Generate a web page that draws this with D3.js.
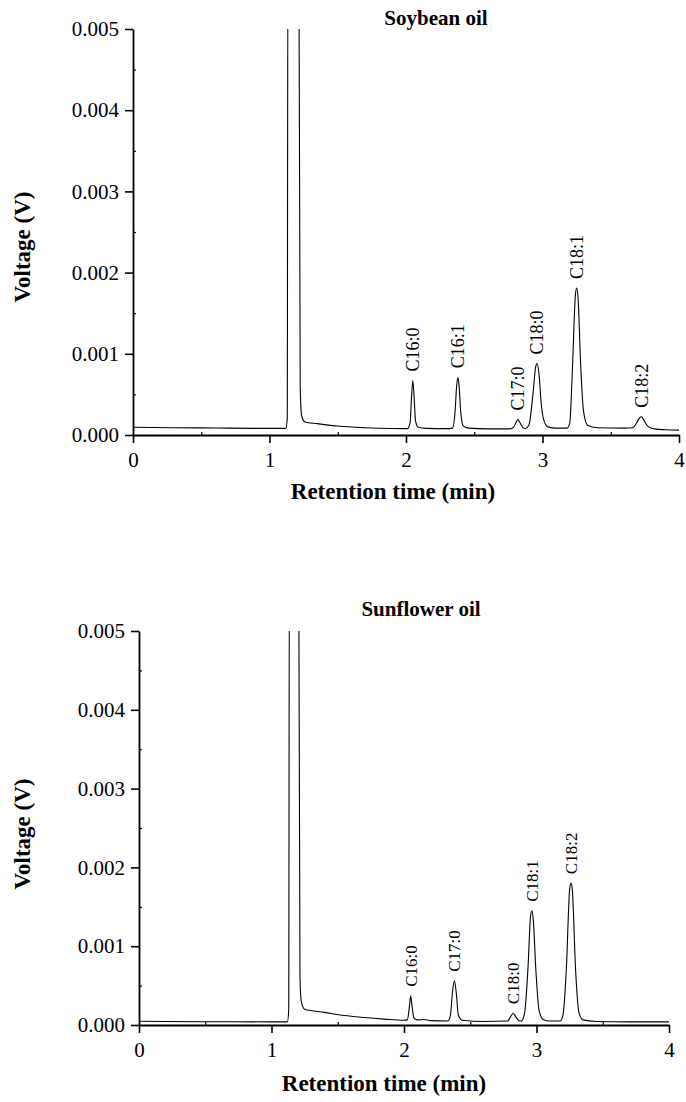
<!DOCTYPE html>
<html>
<head>
<meta charset="utf-8">
<script src="https://cdn.jsdelivr.net/npm/d3@7"></script>
<style>
  html, body { margin: 0; padding: 0; background: #fff; }
  svg { display: block; }
  text { font-family: "Liberation Serif", "Times New Roman", serif; fill: #000; }
</style>
</head>
<body>
<svg id="chart" width="686" height="1102"></svg>
<script>
// ---- Data -----------------------------------------------------------------
// Axis ticks
const timeTicks = [0, 1, 2, 3, 4];
const voltTicks = [0, 0.001, 0.002, 0.003, 0.004, 0.005];

// Soybean oil chromatogram: [retention time (min), voltage (V)]
const soyTrace = [
  [0.00, 0.000095], [0.30, 0.000090], [0.60, 0.000086], [0.90, 0.000082],
  [1.12, 0.000082], [1.13, 0.00020], [1.135, 0.0060], [1.215, 0.0060],
  [1.225, 0.00060], [1.235, 0.00024], [1.26, 0.00016], [1.35, 0.00014],
  [1.50, 0.00011], [1.70, 0.000090], [1.90, 0.000080], [2.01, 0.000078],
  [2.03, 0.00015], [2.04, 0.00045], [2.05, 0.00067], [2.06, 0.00045],
  [2.07, 0.00017], [2.09, 0.000095], [2.15, 0.000082], [2.30, 0.000078],
  [2.34, 0.000085], [2.36, 0.00030], [2.37, 0.00058], [2.38, 0.00071],
  [2.39, 0.00058], [2.40, 0.00030], [2.42, 0.00011], [2.46, 0.000085],
  [2.60, 0.000075], [2.76, 0.000075], [2.79, 0.00010], [2.81, 0.00017],
  [2.82, 0.00019], [2.835, 0.00015], [2.86, 0.000085], [2.875, 0.000080],
  [2.90, 0.00012], [2.93, 0.00050], [2.95, 0.00084], [2.96, 0.00088],
  [2.975, 0.00074], [2.99, 0.00040], [3.01, 0.00018], [3.04, 0.00010],
  [3.10, 0.000085], [3.18, 0.000085], [3.20, 0.00015], [3.22, 0.00085],
  [3.24, 0.00170], [3.25, 0.00181], [3.26, 0.00170], [3.28, 0.00085],
  [3.30, 0.00030], [3.33, 0.00012], [3.40, 0.000090], [3.60, 0.000085],
  [3.66, 0.000090], [3.69, 0.00015], [3.71, 0.00021], [3.725, 0.000225],
  [3.74, 0.00019], [3.77, 0.00011], [3.82, 0.000075], [3.90, 0.000065],
  [4.00, 0.000060]
];
const soyPeakNames   = ["C16:0", "C16:1", "C17:0", "C18:0", "C18:1", "C18:2"];
const soyPeakTimes   = [2.05, 2.38, 2.82, 2.96, 3.25, 3.725];
const soyPeakHeights = [0.00067, 0.00071, 0.00019, 0.00088, 0.00181, 0.000225];

// Sunflower oil chromatogram: [retention time (min), voltage (V)]
const sunTrace = [
  [0.00, 0.000048], [0.50, 0.000042], [1.00, 0.000040], [1.12, 0.000040],
  [1.13, 0.00020], [1.135, 0.0060], [1.205, 0.0060], [1.215, 0.00060],
  [1.225, 0.00030], [1.25, 0.00020], [1.40, 0.00016], [1.55, 0.00012],
  [1.70, 0.000095], [1.85, 0.000075], [2.00, 0.000060], [2.025, 0.000065],
  [2.04, 0.00022], [2.05, 0.00037], [2.06, 0.00025], [2.075, 0.000090],
  [2.10, 0.000065], [2.15, 0.000070], [2.20, 0.000055], [2.33, 0.000050],
  [2.35, 0.00012], [2.365, 0.00040], [2.38, 0.00056], [2.395, 0.00040],
  [2.41, 0.00013], [2.44, 0.000060], [2.60, 0.000045], [2.78, 0.000050],
  [2.80, 0.000090], [2.825, 0.00015], [2.845, 0.00010], [2.87, 0.000055],
  [2.885, 0.000050], [2.91, 0.00015], [2.935, 0.00070], [2.955, 0.00138],
  [2.965, 0.00145], [2.975, 0.00135], [2.995, 0.00070], [3.02, 0.00018],
  [3.05, 0.000070], [3.10, 0.000050], [3.18, 0.000050], [3.20, 0.00013],
  [3.225, 0.00070], [3.25, 0.00172], [3.26, 0.00180], [3.27, 0.00172],
  [3.295, 0.00070], [3.32, 0.00016], [3.35, 0.000065], [3.45, 0.000045],
  [3.70, 0.000040], [4.00, 0.000040]
];
const sunPeakNames   = ["C16:0", "C17:0", "C18:0", "C18:1", "C18:2"];
const sunPeakTimes   = [2.05, 2.38, 2.825, 2.965, 3.26];
const sunPeakHeights = [0.00037, 0.00056, 0.00015, 0.00145, 0.00180];

// ---- Panels ---------------------------------------------------------------
const panels = [
  {
    id: "soy", title: "Soybean oil",
    trace: soyTrace, names: soyPeakNames, times: soyPeakTimes, heights: soyPeakHeights,
    left: 133, right: 679, top: 29, bottom: 435,
    titleX: 436, titleY: 25, xTitleX: 393, xTitleY: 499, yTitleX: 30, yTitleY: 247,
    labelSize: 18
  },
  {
    id: "sun", title: "Sunflower oil",
    trace: sunTrace, names: sunPeakNames, times: sunPeakTimes, heights: sunPeakHeights,
    left: 139, right: 669, top: 631, bottom: 1025,
    titleX: 421, titleY: 616, xTitleX: 384, xTitleY: 1091, yTitleX: 30, yTitleY: 834,
    labelSize: 17
  }
];

const svg = d3.select("#chart");

panels.forEach(p => {
  const x = d3.scaleLinear().domain([0, 4]).range([p.left, p.right]);
  const y = d3.scaleLinear().domain([0, 0.005]).range([p.bottom, p.top]);
  const g = svg.append("g").attr("class", "panel-" + p.id);

  // clip region for the trace
  g.append("clipPath").attr("id", "clip-" + p.id)
    .append("rect")
    .attr("x", p.left).attr("y", p.top)
    .attr("width", p.right - p.left).attr("height", p.bottom - p.top);

  // chromatogram trace
  const line = d3.line()
    .x(d => x(d[0]))
    .y(d => y(d[1]))
    .curve(d3.curveMonotoneX);
  g.append("path")
    .datum(p.trace)
    .attr("clip-path", `url(#clip-${p.id})`)
    .attr("fill", "none")
    .attr("stroke", "#000")
    .attr("stroke-width", 1.1)
    .attr("stroke-linejoin", "round")
    .attr("d", line);

  // minor ticks (inward)
  const xMinor = d3.axisBottom(x).tickValues(d3.range(0.5, 4, 1)).tickSize(-3).tickFormat("");
  const yMinor = d3.axisLeft(y).tickValues(d3.range(0.0005, 0.005, 0.001)).tickSize(-3).tickFormat("");
  g.append("g").attr("transform", `translate(0,${p.bottom})`).call(xMinor)
    .call(a => a.select(".domain").remove())
    .selectAll("line").attr("stroke-width", 1.2);
  g.append("g").attr("transform", `translate(${p.left},0)`).call(yMinor)
    .call(a => a.select(".domain").remove())
    .selectAll("line").attr("stroke-width", 1.2);

  // major axes
  const xAxis = d3.axisBottom(x).tickValues(timeTicks).tickSize(8).tickSizeOuter(0)
    .tickPadding(9).tickFormat(d3.format("d"));
  const yAxis = d3.axisLeft(y).tickValues(voltTicks).tickSize(8).tickSizeOuter(0)
    .tickPadding(6).tickFormat(d3.format(".3f"));

  const gx = g.append("g").attr("transform", `translate(0,${p.bottom})`).call(xAxis);
  const gy = g.append("g").attr("transform", `translate(${p.left},0)`).call(yAxis);
  [gx, gy].forEach(a => {
    a.select(".domain").attr("stroke-width", 1.8);
    a.selectAll(".tick line").attr("stroke-width", 1.6);
    a.selectAll(".tick text")
      .style("font-family", '"Liberation Serif", "Times New Roman", serif')
      .style("font-size", "21px");
  });

  // peak labels (rotated)
  p.names.forEach((name, i) => {
    const px = x(p.times[i]);
    const py = y(p.heights[i]) - 9;
    g.append("text")
      .attr("transform", `translate(${px},${py}) rotate(-90)`)
      .attr("dy", "0.35em")
      .attr("text-anchor", "start")
      .style("font-size", p.labelSize + "px")
      .text(name);
  });

  // panel title
  g.append("text")
    .attr("x", p.titleX).attr("y", p.titleY)
    .attr("text-anchor", "middle")
    .style("font-size", "21px").style("font-weight", "bold")
    .text(p.title);

  // axis titles
  g.append("text")
    .attr("x", p.xTitleX).attr("y", p.xTitleY)
    .attr("text-anchor", "middle")
    .style("font-size", "23px").style("font-weight", "bold")
    .text("Retention time (min)");
  g.append("text")
    .attr("transform", `translate(${p.yTitleX},${p.yTitleY}) rotate(-90)`)
    .attr("text-anchor", "middle")
    .style("font-size", "23px").style("font-weight", "bold")
    .text("Voltage (V)");
});
</script>
</body>
</html>
